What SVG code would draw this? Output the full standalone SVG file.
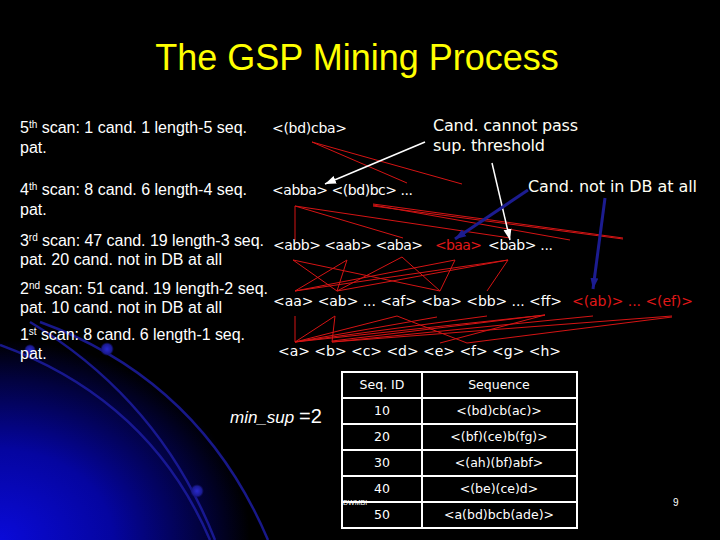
<svg xmlns="http://www.w3.org/2000/svg" width="720" height="540" viewBox="0 0 720 540">
<defs>
<radialGradient id="glow" gradientUnits="userSpaceOnUse" cx="0" cy="0" r="1" gradientTransform="translate(0,540) scale(250,200)">
<stop offset="0" stop-color="#0a0ad8"/>
<stop offset="0.45" stop-color="#0505a0"/>
<stop offset="0.8" stop-color="#020240"/>
<stop offset="1" stop-color="#000000"/>
</radialGradient>
<radialGradient id="dot">
<stop offset="0" stop-color="#2a2ad0"/>
<stop offset="0.7" stop-color="#1a1a90"/>
<stop offset="1" stop-color="#101060" stop-opacity="0"/>
</radialGradient>
<marker id="wArrow" markerUnits="userSpaceOnUse" markerWidth="12" markerHeight="10" refX="11" refY="5" orient="auto">
<path d="M0,1 L11,5 L0,9 Z" fill="#ffffff"/>
</marker>
<marker id="bArrow" markerUnits="userSpaceOnUse" markerWidth="12" markerHeight="10" refX="11" refY="5" orient="auto">
<path d="M0,1 L11,5 L0,9 Z" fill="#1c1c90"/>
</marker>
<style>
.lt{font-family:"Liberation Sans",Arial,sans-serif;font-size:16px;fill:#ffffff}
.sq{font-family:"DejaVu Sans",Verdana,sans-serif;font-size:14px;fill:#ffffff}
.red{fill:#e01818}
.co{font-family:"DejaVu Sans",Verdana,sans-serif;font-size:16px;fill:#fffff4}
.tb{font-family:"DejaVu Sans",Verdana,sans-serif;font-size:12.5px;fill:#ffffff;text-anchor:middle}
.rl{stroke:#d41414;stroke-width:1;fill:none}
.arc{stroke:#1c1ca0;stroke-width:2.5;fill:none;opacity:0.85}
</style>
</defs>
<rect x="0" y="0" width="720" height="540" fill="#000000"/>
<rect x="0" y="300" width="300" height="240" fill="url(#glow)"/>
<g id="decor">
<path class="arc" d="M40,322 Q200,380 268,540"/>
<path class="arc" d="M30,322 Q160,400 215,540"/>
<path class="arc" d="M0,345 Q150,400 210,540"/>
<circle cx="107" cy="349" r="7" fill="url(#dot)"/>
<circle cx="30" cy="350" r="6" fill="url(#dot)"/>
<circle cx="197" cy="491" r="7" fill="url(#dot)"/>
</g>
<g id="title">
<text x="357" y="70" text-anchor="middle" font-family="'Liberation Sans',Arial,sans-serif" font-size="36" fill="#ffff00">The GSP Mining Process</text>
</g>
<g id="scan-labels">
<text class="lt" x="20" y="133" textLength="227">5<tspan font-size="10" dy="-5">th</tspan><tspan dy="5"> scan: 1 cand. 1 length-5 seq.</tspan></text>
<text class="lt" x="20" y="153">pat.</text>
<text class="lt" x="20" y="195" textLength="227">4<tspan font-size="10" dy="-5">th</tspan><tspan dy="5"> scan: 8 cand. 6 length-4 seq.</tspan></text>
<text class="lt" x="20" y="215">pat.</text>
<text class="lt" x="20" y="246" textLength="244">3<tspan font-size="10" dy="-5">rd</tspan><tspan dy="5"> scan: 47 cand. 19 length-3 seq.</tspan></text>
<text class="lt" x="20" y="265" textLength="202">pat. 20 cand. not in DB at all</text>
<text class="lt" x="20" y="294" textLength="248">2<tspan font-size="10" dy="-5">nd</tspan><tspan dy="5"> scan: 51 cand. 19 length-2 seq.</tspan></text>
<text class="lt" x="20" y="313" textLength="202">pat. 10 cand. not in DB at all</text>
<text class="lt" x="20" y="340" textLength="225">1<tspan font-size="10" dy="-5">st</tspan><tspan dy="5"> scan: 8 cand. 6 length-1 seq.</tspan></text>
<text class="lt" x="20" y="359">pat.</text>
</g>
<g id="len5"><text class="sq" x="272" y="133" textLength="75">&lt;(bd)cba&gt;</text></g>
<g id="len4"><text class="sq" x="272" y="195" textLength="141">&lt;abba&gt; &lt;(bd)bc&gt; ...</text></g>
<g id="len3">
<text class="sq" x="273" y="250" textLength="150">&lt;abb&gt; &lt;aab&gt; &lt;aba&gt;</text>
<text class="sq red" x="435" y="250" textLength="47">&lt;baa&gt;</text>
<text class="sq" x="488" y="250" textLength="65">&lt;bab&gt; ...</text>
</g>
<g id="len2">
<text class="sq" x="273" y="306" textLength="289">&lt;aa&gt; &lt;ab&gt; ... &lt;af&gt; &lt;ba&gt; &lt;bb&gt; ... &lt;ff&gt;</text>
<text class="sq red" x="572" y="306" textLength="121">&lt;(ab)&gt; ... &lt;(ef)&gt;</text>
</g>
<g id="len1"><text class="sq" x="278" y="356" textLength="283">&lt;a&gt; &lt;b&gt; &lt;c&gt; &lt;d&gt; &lt;e&gt; &lt;f&gt; &lt;g&gt; &lt;h&gt;</text></g>
<g id="callout-sup">
<text class="co" x="433" y="131" textLength="145">Cand. cannot pass</text>
<text class="co" x="433" y="151" textLength="112">sup. threshold</text>
</g>
<g id="callout-db"><text class="co" x="528" y="192" textLength="169">Cand. not in DB at all</text></g>
<g id="connectors">
<g id="red-lines">
<line class="rl" x1="312" y1="142" x2="462" y2="184"/>
<line class="rl" x1="312" y1="142" x2="407" y2="183"/>
<line class="rl" x1="295" y1="206" x2="295" y2="240"/>
<line class="rl" x1="295" y1="206" x2="403" y2="238"/>
<line class="rl" x1="295" y1="206" x2="510" y2="238"/>
<line class="rl" x1="373" y1="205" x2="570" y2="240"/>
<line class="rl" x1="373" y1="206" x2="623" y2="239"/>
<line class="rl" x1="373" y1="204" x2="623" y2="238"/>
<line class="rl" x1="293" y1="260" x2="337" y2="291"/>
<line class="rl" x1="293" y1="260" x2="440" y2="291"/>
<line class="rl" x1="347" y1="260" x2="295" y2="291"/>
<line class="rl" x1="347" y1="260" x2="337" y2="291"/>
<line class="rl" x1="402" y1="257" x2="337" y2="291"/>
<line class="rl" x1="402" y1="257" x2="440" y2="291"/>
<line class="rl" x1="455" y1="260" x2="295" y2="291"/>
<line class="rl" x1="455" y1="260" x2="440" y2="291"/>
<line class="rl" x1="508" y1="260" x2="295" y2="291"/>
<line class="rl" x1="508" y1="260" x2="337" y2="291"/>
<line class="rl" x1="508" y1="260" x2="487" y2="291"/>
<line class="rl" x1="295" y1="316" x2="295" y2="342"/>
<line class="rl" x1="335" y1="316" x2="295" y2="342"/>
<line class="rl" x1="335" y1="316" x2="332" y2="342"/>
<line class="rl" x1="295" y1="342" x2="397" y2="316"/>
<line class="rl" x1="295" y1="342" x2="437" y2="317"/>
<line class="rl" x1="295" y1="342" x2="487" y2="316"/>
<line class="rl" x1="295" y1="342" x2="545" y2="315"/>
<line class="rl" x1="332" y1="342" x2="593" y2="316"/>
<line class="rl" x1="332" y1="342" x2="672" y2="316"/>
<line class="rl" x1="332" y1="341" x2="545" y2="315"/>
<line class="rl" x1="397" y1="316" x2="467" y2="343"/>
<line class="rl" x1="440" y1="343" x2="545" y2="315"/>
<line class="rl" x1="467" y1="343" x2="672" y2="317"/>
</g>
<line x1="425" y1="142" x2="325" y2="184" stroke="#ffffff" stroke-width="1.5" marker-end="url(#wArrow)"/>
<line x1="492" y1="163" x2="510" y2="240" stroke="#ffffff" stroke-width="1.5" marker-end="url(#wArrow)"/>
<line x1="528" y1="190" x2="455" y2="239" stroke="#1c1c90" stroke-width="3" marker-end="url(#bArrow)"/>
<line x1="605" y1="198" x2="593" y2="289" stroke="#1c1c90" stroke-width="3" marker-end="url(#bArrow)"/>
</g>
<g id="minsup"><text x="230" y="423" font-family="'Liberation Sans',Arial,sans-serif" font-size="17" fill="#ffffff"><tspan font-style="italic">min_sup</tspan> <tspan font-size="20">=2</tspan></text></g>
<g id="db-table">
<rect x="342" y="372" width="235" height="156" fill="none" stroke="#ffffff" stroke-width="2"/>
<line x1="422" y1="372" x2="422" y2="528" stroke="#ffffff" stroke-width="2"/>
<line x1="342" y1="398" x2="577" y2="398" stroke="#ffffff" stroke-width="2"/>
<line x1="342" y1="424" x2="577" y2="424" stroke="#ffffff" stroke-width="2"/>
<line x1="342" y1="450" x2="577" y2="450" stroke="#ffffff" stroke-width="2"/>
<line x1="342" y1="476" x2="577" y2="476" stroke="#ffffff" stroke-width="2"/>
<line x1="342" y1="502" x2="577" y2="502" stroke="#ffffff" stroke-width="2"/>
<text class="tb" x="382" y="389">Seq. ID</text>
<text class="tb" x="499" y="389">Sequence</text>
<text class="tb" x="382" y="415">10</text>
<text class="tb" x="499" y="415">&lt;(bd)cb(ac)&gt;</text>
<text class="tb" x="382" y="441">20</text>
<text class="tb" x="499" y="441">&lt;(bf)(ce)b(fg)&gt;</text>
<text class="tb" x="382" y="467">30</text>
<text class="tb" x="499" y="467">&lt;(ah)(bf)abf&gt;</text>
<text class="tb" x="382" y="493">40</text>
<text class="tb" x="499" y="493">&lt;(be)(ce)d&gt;</text>
<text class="tb" x="382" y="519">50</text>
<text class="tb" x="499" y="519">&lt;a(bd)bcb(ade)&gt;</text>
<text x="343" y="505" font-family="'Liberation Sans',Arial,sans-serif" font-size="7" fill="#ffffff">DWMBI</text>
</g>
<g id="page-number"><text x="673" y="506" font-family="'Liberation Sans',Arial,sans-serif" font-size="10" fill="#ffffff">9</text></g>
</svg>
